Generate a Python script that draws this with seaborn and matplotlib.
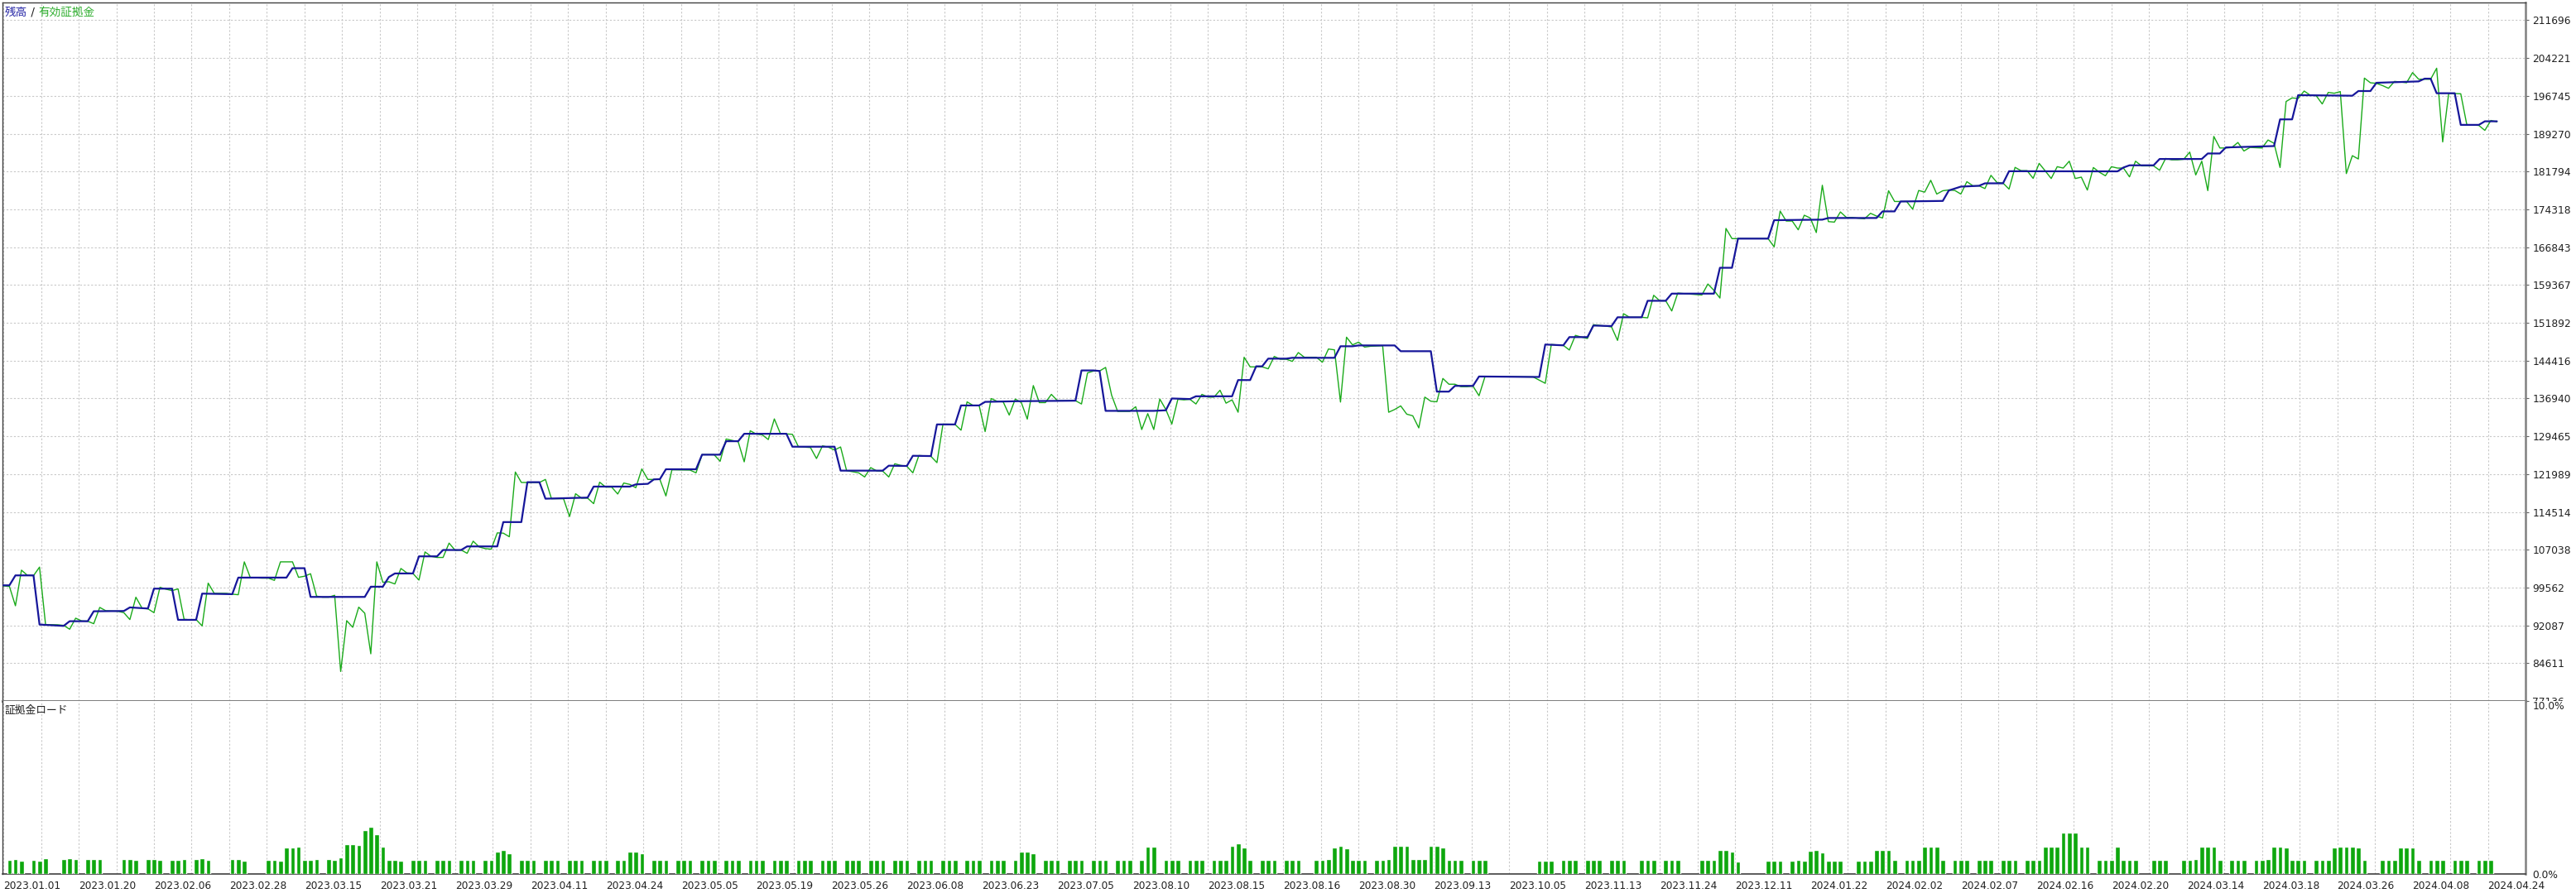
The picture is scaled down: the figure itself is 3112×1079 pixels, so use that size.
import numpy as np
import matplotlib
matplotlib.use("Agg")
import matplotlib.pyplot as plt
import seaborn as sns
from matplotlib.transforms import Bbox, TransformedBbox

# tick labels (deal dates) and right axis values
date_labels = ["2023.01.01", "2023.01.20", "2023.02.06", "2023.02.28", "2023.03.15", "2023.03.21",
               "2023.03.29", "2023.04.11", "2023.04.24", "2023.05.05", "2023.05.19", "2023.05.26",
               "2023.06.08", "2023.06.23", "2023.07.05", "2023.08.10", "2023.08.15", "2023.08.16",
               "2023.08.30", "2023.09.13", "2023.10.05", "2023.11.13", "2023.11.24", "2023.12.11",
               "2024.01.22", "2024.02.02", "2024.02.07", "2024.02.16", "2024.02.20", "2024.03.14",
               "2024.03.18", "2024.03.26", "2024.04.08", "2024.04.24"]
y_ticks = [77136, 84611, 92087, 99562, 107038, 114514, 121989, 129465, 136940, 144416,
           151892, 159367, 166843, 174318, 181794, 189270, 196745, 204221, 211696]

# balance (blue), by deal number
bal_x = [0, 1, 2, 5, 6, 10, 11, 14, 15, 20, 21, 24, 25, 28, 29, 32, 33, 38, 39, 47,
         48, 50, 51, 60, 61, 63, 64, 65, 68, 69, 72, 73, 76, 77, 82, 83, 86, 87, 89, 90,
         97, 98, 104, 105, 107, 108, 109, 110, 115, 116, 119, 120, 122, 123, 130, 131, 138, 139, 146, 147,
         150, 151, 154, 155, 158, 159, 162, 163, 168, 178, 179, 181, 182, 183, 191, 193, 194, 197, 198, 204,
         205, 207, 208, 209, 210, 213, 214, 221, 222, 224, 225, 231, 232, 237, 238, 240, 241, 244, 245, 255,
         256, 259, 260, 263, 264, 267, 268, 272, 273, 276, 277, 284, 285, 287, 288, 293, 294, 302, 303, 311,
         312, 314, 315, 322, 323, 325, 328, 329, 332, 333, 351, 352, 353, 357, 358, 365, 366, 368, 369, 377,
         378, 380, 381, 390, 391, 393, 394, 401, 402, 403, 404, 407, 408, 411, 412, 414]
bal_y = [99997, 99997, 101962, 101962, 92248, 91975, 92903, 92903, 94868, 94923, 95632, 95414, 99342, 99342, 93176, 93176, 98360, 98251, 101525, 101525,
         103381, 103381, 97706, 97706, 99724, 99724, 101634, 102344, 102344, 105727, 105727, 106982, 106982, 107691, 107691, 112500, 112500, 120384, 120384, 117122,
         117340, 119515, 119515, 119949, 120058, 120928, 120982, 122940, 122940, 125821, 125821, 128485, 128485, 129954, 129954, 127398, 127398, 122668, 122668, 123647,
         123592, 125603, 125549, 131802, 131802, 135553, 135553, 136260, 136385, 136494, 142471, 142471, 142362, 134484, 134484, 134592, 136929, 136820, 137363, 137363,
         140568, 140568, 143285, 143285, 144806, 144806, 144969, 144969, 147251, 147251, 147414, 147414, 146273, 146273, 138286, 138286, 139422, 139422, 141275, 141179,
         147595, 147432, 149061, 149061, 151347, 151238, 152978, 152978, 156240, 156240, 157654, 157654, 162764, 162764, 168527, 168527, 172170, 172279, 172605, 172605,
         173911, 173911, 175868, 175976, 178043, 178804, 178966, 179456, 179456, 181848, 181820, 182581, 183016, 183016, 184267, 184267, 185354, 185354, 186550, 186822,
         192097, 192097, 196881, 196772, 197696, 197696, 199327, 199599, 200143, 200143, 197261, 197261, 191009, 191009, 191715, 191715]

# equity (green), by deal number
eq_x = [0, 1, 2, 3, 4, 5, 6, 7, 9, 10, 11, 12, 13, 14, 15, 16, 17, 19, 20, 21,
        22, 23, 24, 25, 26, 27, 28, 29, 30, 31, 32, 33, 34, 35, 37, 38, 39, 40, 41, 43,
        44, 45, 46, 48, 49, 50, 51, 52, 53, 54, 55, 56, 57, 58, 59, 60, 61, 62, 63, 64,
        65, 66, 67, 68, 69, 70, 71, 72, 73, 74, 75, 76, 77, 78, 79, 80, 81, 82, 83, 84,
        85, 86, 89, 90, 91, 93, 94, 95, 96, 97, 98, 99, 100, 101, 102, 103, 104, 105, 106, 107,
        109, 110, 111, 114, 115, 116, 118, 119, 120, 122, 123, 124, 125, 126, 127, 128, 129, 131, 132, 134,
        135, 136, 137, 138, 139, 140, 142, 143, 144, 145, 146, 147, 148, 149, 150, 151, 152, 154, 155, 156,
        158, 159, 160, 161, 162, 163, 164, 165, 166, 167, 168, 169, 170, 171, 172, 173, 174, 175, 178, 179,
        180, 181, 182, 183, 184, 185, 187, 188, 189, 190, 191, 192, 193, 194, 195, 196, 197, 198, 199, 200,
        201, 202, 203, 204, 205, 206, 207, 209, 210, 211, 212, 213, 214, 215, 216, 218, 219, 220, 221, 222,
        223, 224, 225, 226, 227, 229, 230, 231, 232, 233, 234, 235, 236, 237, 238, 239, 240, 241, 242, 243,
        244, 245, 246, 254, 256, 257, 259, 260, 261, 262, 263, 264, 266, 267, 268, 269, 270, 272, 273, 274,
        275, 276, 277, 278, 282, 283, 284, 285, 286, 287, 293, 294, 295, 296, 297, 298, 299, 300, 301, 302,
        303, 304, 305, 306, 307, 308, 309, 310, 311, 312, 313, 314, 316, 317, 318, 319, 320, 321, 322, 323,
        324, 325, 326, 327, 328, 329, 330, 331, 332, 333, 334, 335, 336, 337, 338, 339, 340, 341, 342, 343,
        344, 345, 346, 347, 348, 349, 350, 351, 352, 353, 354, 355, 357, 358, 359, 360, 361, 362, 363, 364,
        365, 366, 367, 368, 369, 370, 371, 372, 373, 375, 376, 377, 378, 379, 380, 381, 382, 383, 384, 385,
        386, 387, 388, 389, 390, 391, 392, 393, 394, 395, 396, 397, 398, 399, 400, 401, 403, 404, 405, 406,
        408, 409, 411, 412, 413, 414]
eq_y = [99888, 99779, 95959, 102998, 101962, 101907, 103599, 92248, 92194, 92085, 91321, 93503, 92957, 92903, 92412, 95632, 94977, 94868, 94595, 93230,
        97651, 95522, 95359, 94595, 99615, 99233, 98960, 99288, 93285, 93176, 93230, 91975, 100434, 98415, 98415, 98251, 98142, 104636, 101525, 101416,
        101416, 100980, 104636, 104636, 101580, 101798, 102290, 97869, 97651, 97651, 98033, 82971, 93012, 91703, 95687, 94486, 86464, 104636, 100597, 100706,
        100270, 103326, 102453, 102344, 101034, 106600, 105727, 105509, 105509, 108346, 106927, 106982, 106327, 108728, 107582, 107255, 107146, 110365, 110311, 109601,
        122396, 120330, 120330, 120928, 117122, 117122, 113588, 118101, 117231, 117231, 116144, 120384, 119406, 119406, 118046, 120221, 119949, 119297, 123000, 120928,
        120928, 117665, 122832, 122777, 122234, 125821, 125821, 124516, 128920, 128377, 124408, 130552, 129899, 129736, 128812, 132889, 130008, 129845, 127398, 127235,
        125060, 127561, 127289, 126745, 127344, 122668, 122234, 121417, 123266, 122614, 122559, 121417, 124027, 123701, 123538, 122234, 125658, 125495, 124244, 131857,
        131802, 130660, 136260, 135553, 135553, 130389, 136913, 136369, 136260, 133650, 136804, 136152, 132854, 139482, 136113, 136113, 137743, 136494, 136494, 135842,
        141981, 142362, 142362, 143068, 137581, 134375, 134375, 135299, 130790, 133939, 130790, 136820, 134755, 131876, 136766, 136657, 136766, 135842, 137743, 137200,
        137200, 138558, 136004, 136657, 134212, 145078, 143176, 143176, 142796, 145241, 144698, 144698, 144263, 146002, 145078, 145078, 144100, 146708, 146545, 136222,
        149044, 147523, 148066, 147088, 147251, 147360, 134212, 134755, 135461, 133831, 133505, 131116, 137200, 136385, 136277, 140889, 139748, 139748, 139259, 139259,
        139367, 137472, 141275, 141179, 139928, 147595, 147432, 146508, 149404, 149061, 148791, 151510, 151238, 151075, 148410, 153685, 152978, 152978, 152869, 157327,
        156240, 156240, 154228, 157762, 157381, 159557, 158306, 156784, 170539, 168527, 168527, 166896, 173965, 172007, 172007, 170267, 173149, 172605, 169724, 179075,
        171898, 171789, 173802, 172714, 172714, 172551, 172443, 173530, 172986, 172605, 177988, 175868, 175868, 174345, 178043, 177716, 180054, 177336, 177988, 178151,
        178043, 177336, 179782, 178966, 178966, 178423, 181033, 179619, 179510, 178314, 182609, 181957, 181957, 180435, 183397, 181929, 180406, 182744, 182472, 183831,
        180406, 180678, 178123, 182581, 181657, 180950, 182744, 182472, 182472, 180733, 183831, 182907, 182907, 182037, 184370, 184104, 184104, 184213, 185626, 181113,
        183831, 178014, 188725, 186442, 186442, 186550, 187529, 185843, 186550, 186442, 188019, 187366, 182581, 195630, 196337, 196228, 197696, 196881, 196772, 195141,
        197424, 197261, 197588, 181385, 184919, 184267, 200252, 199327, 199219, 198784, 198240, 199599, 199490, 199327, 201339, 200034, 200034, 202209, 187638, 197261,
        197153, 191063, 190900, 189922, 191879, 191607]

# margin load, % per deal
load_x = [1, 2, 3, 5, 6, 7, 10, 11, 12, 14, 15, 16, 20, 21, 22, 24, 25, 26, 28, 29,
          30, 32, 33, 34, 38, 39, 40, 44, 45, 46, 47, 48, 49, 50, 51, 52, 54, 55, 56, 57,
          58, 59, 60, 61, 62, 63, 64, 65, 66, 68, 69, 70, 72, 73, 74, 76, 77, 78, 80, 81,
          82, 83, 84, 86, 87, 88, 90, 91, 92, 94, 95, 96, 98, 99, 100, 102, 103, 104, 105, 106,
          108, 109, 110, 112, 113, 114, 116, 117, 118, 120, 121, 122, 124, 125, 126, 128, 129, 130, 132, 133,
          134, 136, 137, 138, 140, 141, 142, 144, 145, 146, 148, 149, 150, 152, 153, 154, 156, 157, 158, 160,
          161, 162, 164, 165, 166, 168, 169, 170, 171, 173, 174, 175, 177, 178, 179, 181, 182, 183, 185, 186,
          187, 189, 190, 191, 193, 194, 195, 197, 198, 199, 201, 202, 203, 204, 205, 206, 207, 209, 210, 211,
          213, 214, 215, 218, 219, 220, 221, 222, 223, 224, 225, 226, 228, 229, 230, 231, 232, 233, 234, 235,
          236, 237, 238, 239, 240, 241, 242, 244, 245, 246, 255, 256, 257, 259, 260, 261, 263, 264, 265, 267,
          268, 269, 272, 273, 274, 276, 277, 278, 282, 283, 284, 285, 286, 287, 288, 293, 294, 295, 297, 298,
          299, 300, 301, 302, 303, 304, 305, 308, 309, 310, 311, 312, 313, 314, 316, 317, 318, 319, 320, 321,
          322, 324, 325, 326, 328, 329, 330, 332, 333, 334, 336, 337, 338, 339, 340, 341, 342, 343, 344, 345,
          346, 348, 349, 350, 351, 352, 353, 354, 357, 358, 359, 362, 363, 364, 365, 366, 367, 368, 370, 371,
          372, 374, 375, 376, 377, 378, 379, 380, 381, 382, 384, 385, 386, 387, 388, 389, 390, 391, 392, 395,
          396, 397, 398, 399, 400, 401, 403, 404, 405, 407, 408, 409, 411, 412, 413]
load_y = [0.81, 0.84, 0.76, 0.79, 0.76, 0.89, 0.84, 0.89, 0.84, 0.84, 0.84, 0.84, 0.84, 0.84, 0.79, 0.84, 0.84, 0.79, 0.79, 0.79,
          0.84, 0.84, 0.89, 0.79, 0.84, 0.84, 0.76, 0.79, 0.79, 0.76, 1.55, 1.55, 1.6, 0.79, 0.79, 0.84, 0.84, 0.79, 0.96, 1.71,
          1.74, 1.66, 2.52, 2.74, 2.29, 1.6, 0.79, 0.79, 0.76, 0.8, 0.8, 0.8, 0.8, 0.8, 0.8, 0.8, 0.8, 0.8, 0.8, 0.8,
          1.3, 1.4, 1.2, 0.8, 0.8, 0.8, 0.8, 0.8, 0.8, 0.8, 0.8, 0.8, 0.8, 0.8, 0.8, 0.8, 0.8, 1.3, 1.3, 1.2,
          0.8, 0.8, 0.8, 0.8, 0.8, 0.8, 0.8, 0.8, 0.8, 0.8, 0.8, 0.8, 0.8, 0.8, 0.8, 0.8, 0.8, 0.8, 0.8, 0.8,
          0.8, 0.8, 0.8, 0.8, 0.8, 0.8, 0.8, 0.8, 0.8, 0.8, 0.8, 0.8, 0.8, 0.8, 0.8, 0.8, 0.8, 0.8, 0.8, 0.8,
          0.8, 0.8, 0.8, 0.8, 0.8, 0.8, 1.3, 1.3, 1.2, 0.8, 0.8, 0.8, 0.8, 0.8, 0.8, 0.8, 0.8, 0.8, 0.8, 0.8,
          0.8, 0.8, 1.6, 1.6, 0.8, 0.8, 0.8, 0.8, 0.8, 0.8, 0.8, 0.8, 0.8, 1.65, 1.75, 1.55, 0.8, 0.8, 0.8, 0.8,
          0.8, 0.8, 0.8, 0.8, 0.8, 0.85, 1.55, 1.65, 1.5, 0.8, 0.8, 0.8, 0.8, 0.8, 0.85, 1.65, 1.65, 1.65, 0.85, 0.85,
          0.85, 1.65, 1.65, 1.55, 0.8, 0.8, 0.8, 0.8, 0.8, 0.8, 0.75, 0.75, 0.75, 0.8, 0.8, 0.8, 0.8, 0.8, 0.8, 0.8,
          0.8, 0.8, 0.8, 0.8, 0.8, 0.8, 0.8, 0.8, 0.8, 0.8, 0.8, 1.4, 1.4, 1.3, 0.7, 0.75, 0.75, 0.75, 0.75, 0.8,
          0.75, 1.35, 1.4, 1.25, 0.75, 0.75, 0.75, 0.75, 0.75, 0.75, 1.4, 1.4, 1.4, 0.8, 0.8, 0.8, 0.8, 1.6, 1.6, 1.6,
          0.8, 0.8, 0.8, 0.8, 0.8, 0.8, 0.8, 0.8, 0.8, 0.8, 0.8, 0.8, 0.8, 1.6, 1.6, 1.6, 2.4, 2.4, 2.4, 1.6,
          1.6, 0.8, 0.8, 0.8, 1.6, 0.8, 0.8, 0.8, 0.8, 0.8, 0.8, 0.8, 0.8, 0.85, 1.6, 1.6, 1.6, 0.8, 0.8, 0.8,
          0.8, 0.8, 0.8, 0.85, 1.6, 1.6, 1.55, 0.8, 0.8, 0.8, 0.8, 0.8, 0.8, 1.55, 1.6, 1.6, 1.6, 1.55, 0.8, 0.8,
          0.8, 0.8, 1.55, 1.55, 1.55, 0.8, 0.8, 0.8, 0.8, 0.8, 0.8, 0.8, 0.8, 0.8, 0.8]

sns.set_style("white")
plt.rcParams['font.family'] = ['DejaVu Sans', 'Noto Sans CJK JP']

W, H = 3112, 1079
fig = plt.figure(figsize=(W / 100, H / 100), dpi=100)
x0, x1 = 3 / W, 3051 / W
ax = fig.add_axes([x0, (H - 847) / H, x1 - x0, (847 - 3) / H])
ax2 = fig.add_axes([x0, (H - 1056) / H, x1 - x0, (1056 - 847) / H])

BLUE = "#16169a"
GREEN = "#1aaa1a"
BAR = "#0ea70e"
grid_kw = dict(color="#c8c8c8", linewidth=0.8, linestyle=(0, (2, 2)))

major = np.arange(len(date_labels)) * 12.5
minor = major + 6.25

# main panel
sns.lineplot(x=eq_x, y=eq_y, ax=ax, color=GREEN, linewidth=1.0, estimator=None, sort=False, zorder=3)
sns.lineplot(x=bal_x, y=bal_y, ax=ax, color=BLUE, linewidth=1.6, estimator=None, sort=False, zorder=4)
ax.set_xlim(-0.15, 415.7)
ax.set_ylim(77136, 215200)
ax.set_xticks(major)
ax.set_xticks(minor, minor=True)
ax.tick_params(axis="x", which="both", length=0, labelbottom=False)
ax.grid(True, which="both", axis="x", **grid_kw)
ax.set_yticks(y_ticks, labels=[str(v) for v in y_ticks])
ax.grid(True, axis="y", **grid_kw)
ax.yaxis.tick_right()
ax.tick_params(axis="y", length=3, width=0.8, color="#606060", pad=3, labelsize=8.8, labelcolor="#202020")
ax.set_xlabel("")
ax.set_ylabel("")

# margin load panel
sns.barplot(x=load_x, y=load_y, ax=ax2, native_scale=True, color=BAR, saturation=1,
            width=0.78, errorbar=None, zorder=3)
ax2.set_xlim(-0.15, 415.7)
ax2.set_ylim(0, 10)
ax2.set_xticks(major, labels=date_labels)
ax2.set_xticks(minor, minor=True)
ax2.grid(True, which="both", axis="x", **grid_kw)
ax2.tick_params(axis="x", which="major", length=4, width=0.8, color="#404040", pad=2,
                labelsize=8.7, labelcolor="#202020")
ax2.tick_params(axis="x", which="minor", length=0)
for lbl in ax2.get_xticklabels():
    lbl.set_horizontalalignment("left")
ax2.set_yticks([0, 10], labels=["0.0%", "10.0%"])
ax2.yaxis.tick_right()
ax2.tick_params(axis="y", length=0, pad=6, labelsize=8.8, labelcolor="#202020")
ax2.get_yticklabels()[1].set_verticalalignment("top")
ax2.set_xlabel("")
ax2.set_ylabel("")

for a in (ax, ax2):
    for side in ("left", "top", "right", "bottom"):
        a.spines[side].set_visible(True)
    a.spines["left"].set_color("#404040")
    a.spines["left"].set_linewidth(1.0)
    a.spines["right"].set_color("#808080")
    a.spines["right"].set_linewidth(1.8)
ax.spines["top"].set_color("#404040")
ax.spines["top"].set_linewidth(1.0)
ax.spines["bottom"].set_color("#808080")
ax.spines["bottom"].set_linewidth(2.2)
ax2.spines["top"].set_visible(False)
ax2.spines["bottom"].set_color("#404040")
ax2.spines["bottom"].set_linewidth(1.2)

# clip the lowest main-axis label at the panel border, as in the original
fig.canvas.draw()
low = ax.get_yticklabels()[0]
low.set_clip_on(True)
low.set_clip_box(TransformedBbox(Bbox([[0, (H - 847) / H], [1, 1]]), fig.transFigure))

# legend-like header
renderer = fig.canvas.get_renderer()
xpos = 6 / W
ypos = 1 - 15 / H
for txt, col in [("残高", "#2b2ba8"), (" / ", "#202020"), ("有効証拠金", "#2fae2f")]:
    t = fig.text(xpos, ypos, txt, color=col, fontsize=9.8, va="center", ha="left")
    bb = t.get_window_extent(renderer)
    xpos += bb.width / W

fig.text(6 / W, 1 - 858 / H, "証拠金ロード", color="#202020", fontsize=9.2, va="center", ha="left")

fig.savefig("out.png", dpi=100)
